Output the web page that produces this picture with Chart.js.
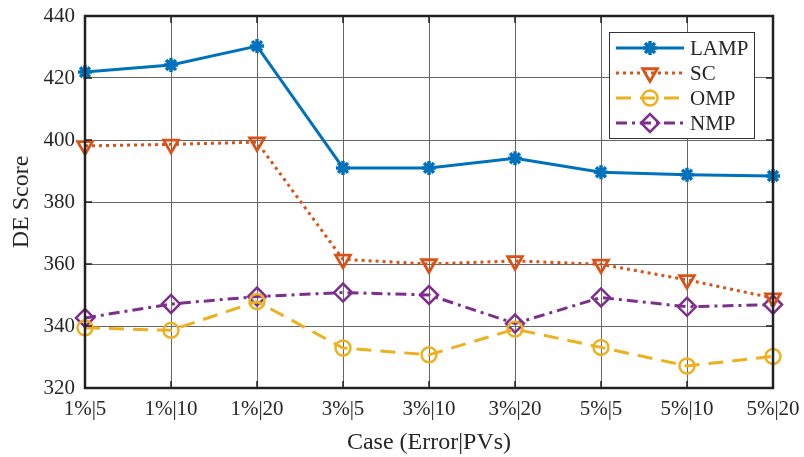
<!DOCTYPE html>
<html>
<head>
<meta charset="utf-8">
<script src="https://cdn.jsdelivr.net/npm/chart.js@4/dist/chart.umd.min.js"></script>
<style>
html,body{margin:0;padding:0;background:#fff;}
#wrap{width:804px;height:457px;position:relative;}
</style>
</head>
<body>
<div id="wrap"><canvas id="c" width="804" height="457"></canvas></div>
<script>
const categories = ['1%|5','1%|10','1%|20','3%|5','3%|10','3%|20','5%|5','5%|10','5%|20'];
const lampValues = [421.9, 424.2, 430.3, 391.0, 391.0, 394.1, 389.6, 388.8, 388.4];
const scValues   = [398.1, 398.6, 399.3, 361.5, 360.0, 361.0, 359.9, 354.9, 349.0];
const ompValues  = [339.4, 338.6, 347.9, 332.9, 330.7, 339.0, 333.1, 327.1, 330.2];
const nmpValues  = [342.6, 347.1, 349.5, 350.8, 350.0, 340.8, 349.2, 346.2, 346.9];
const yTicks = [320, 340, 360, 380, 400, 420, 440];

const FONT = '"Liberation Serif", "Times New Roman", serif';
const TXT = '#262626';

const mk = (label, data, color, dash, style, rot, radius, bw) => ({
  label, data,
  borderColor: color, backgroundColor: 'rgba(0,0,0,0)',
  borderWidth: 3, borderDash: dash,
  pointStyle: style, rotation: rot, pointRadius: radius,
  pointBorderColor: color, pointBackgroundColor: 'rgba(0,0,0,0)',
  pointBorderWidth: bw, tension: 0, fill: false
});

const datasets = [
  mk('LAMP', lampValues, '#0072BD', [], 'star', 0, 7, 3.5),
  mk('SC', scValues, '#D95319', [3, 4], 'triangle', 180, 8.5, 2.8),
  mk('OMP', ompValues, '#EDB120', [15, 9], 'circle', 0, 7.5, 2.5),
  mk('NMP', nmpValues, '#7E2F8E', [11, 5, 3, 5], 'rectRot', 0, 9, 2.5)
];

const frame = {
  id: 'frame',
  afterDatasetsDraw(chart) {
    const {ctx, chartArea: a} = chart;
    const xs = chart.scales.x, ys = chart.scales.y;
    ctx.save();
    ctx.strokeStyle = '#222';
    ctx.lineWidth = 1.5;
    const tl = 7;
    ctx.beginPath();
    categories.forEach((c, i) => {
      const x = xs.getPixelForValue(i);
      ctx.moveTo(x, a.bottom); ctx.lineTo(x, a.bottom - tl);
      ctx.moveTo(x, a.top); ctx.lineTo(x, a.top + tl);
    });
    yTicks.forEach(v => {
      const y = ys.getPixelForValue(v);
      ctx.moveTo(a.left, y); ctx.lineTo(a.left + tl, y);
      ctx.moveTo(a.right, y); ctx.lineTo(a.right - tl, y);
    });
    ctx.stroke();
    ctx.lineWidth = 2.5;
    ctx.strokeRect(a.left, a.top, a.right - a.left, a.bottom - a.top);
    ctx.restore();

    // legend
    const lx = 609, ly = 32, lw = 145, lh = 106;
    ctx.save();
    ctx.fillStyle = '#fff';
    ctx.fillRect(lx, ly, lw, lh);
    ctx.strokeStyle = '#333';
    ctx.lineWidth = 1;
    ctx.strokeRect(lx + 0.5, ly + 0.5, lw, lh);
    chart.data.datasets.forEach((ds, i) => {
      const y = ly + 16 + i * 25;
      ctx.save();
      ctx.strokeStyle = ds.borderColor;
      ctx.lineWidth = ds.borderWidth;
      ctx.setLineDash(ds.borderDash);
      ctx.beginPath();
      ctx.moveTo(lx + 7, y); ctx.lineTo(lx + 75, y);
      ctx.stroke();
      ctx.restore();
      ctx.save();
      ctx.strokeStyle = ds.pointBorderColor;
      ctx.fillStyle = 'rgba(0,0,0,0)';
      ctx.lineWidth = ds.pointBorderWidth;
      Chart.helpers.drawPoint(ctx, {pointStyle: ds.pointStyle, rotation: ds.rotation, radius: ds.pointRadius, borderWidth: ds.pointBorderWidth}, lx + 41, y);
      ctx.restore();
      ctx.fillStyle = TXT;
      ctx.font = '21px ' + FONT;
      ctx.textBaseline = 'middle';
      ctx.textAlign = 'left';
      ctx.fillText(ds.label, lx + 81, y + 1);
    });
    ctx.restore();
  }
};

new Chart(document.getElementById('c'), {
  type: 'line',
  data: { labels: categories, datasets },
  options: {
    responsive: false,
    animation: false,
    devicePixelRatio: 1,
    layout: { padding: { top: 16, right: 31, left: 0, bottom: 0 } },
    plugins: { legend: { display: false }, tooltip: { enabled: false } },
    scales: {
      x: {
        type: 'category',
        offset: false,
        afterFit(s) { s.height = 69; s.paddingLeft = 0; s.paddingRight = 0; },
        grid: { color: '#666', lineWidth: 1, drawTicks: false },
        border: { display: false },
        ticks: { color: TXT, font: { family: FONT, size: 21 }, padding: 9, maxRotation: 0, autoSkip: false },
        title: { display: true, text: 'Case (Error|PVs)', color: TXT, font: { family: FONT, size: 24 }, padding: { top: 2, bottom: 0 } }
      },
      y: {
        min: 320, max: 440,
        afterFit(s) { s.width = 85; s.paddingTop = 0; s.paddingBottom = 0; },
        afterBuildTicks(s) { s.ticks = yTicks.map(v => ({ value: v })); },
        grid: { color: '#666', lineWidth: 1, drawTicks: false },
        border: { display: false },
        ticks: { color: TXT, font: { family: FONT, size: 21 }, padding: 10 },
        title: { display: true, text: 'DE Score', color: TXT, font: { family: FONT, size: 24 }, padding: { top: 7, bottom: 0 } }
      }
    }
  },
  plugins: [frame]
});
</script>
</body>
</html>
